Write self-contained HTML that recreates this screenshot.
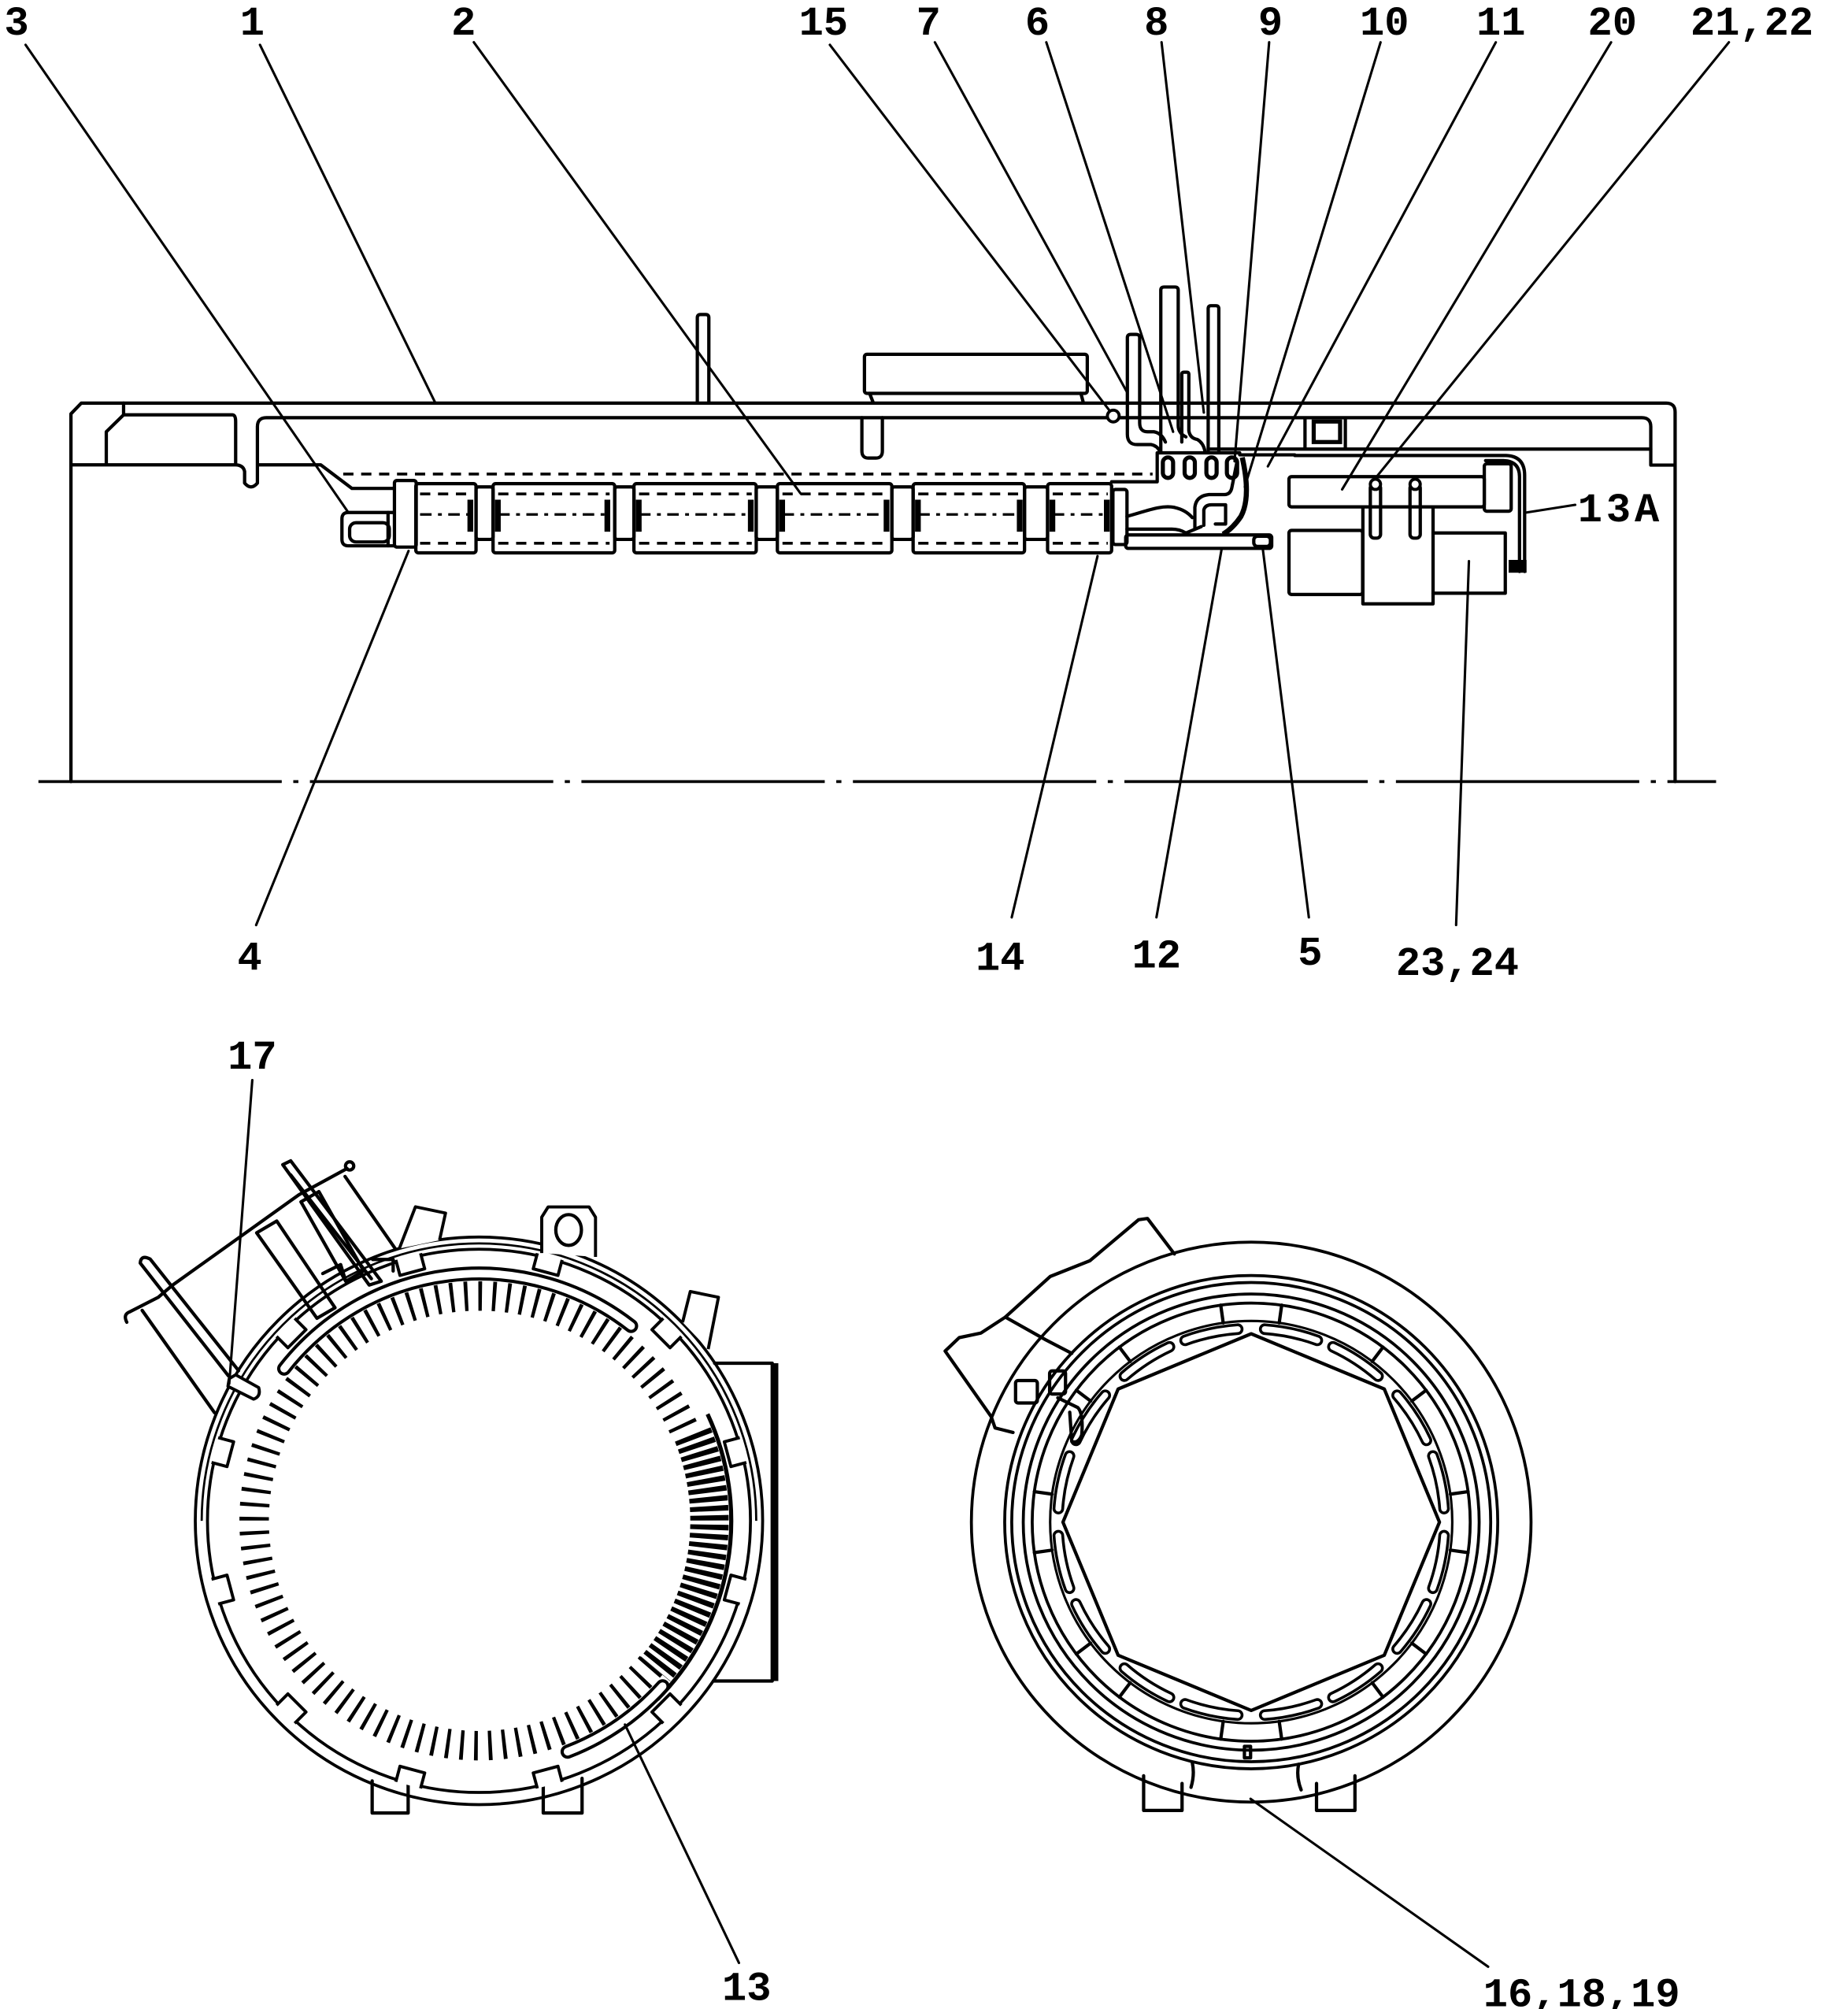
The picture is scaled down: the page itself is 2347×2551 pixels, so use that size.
<!DOCTYPE html>
<html><head><meta charset="utf-8"><style>
html,body{margin:0;padding:0;background:#fff;}
svg{display:block}
.s{fill:none;stroke:#000;stroke-width:2.6;stroke-linejoin:round;stroke-linecap:round}
.c{fill:none;stroke:#000;stroke-width:2.3}
.t{fill:none;stroke:#000;stroke-width:1.9;stroke-linecap:round}
.w{fill:#fff;stroke:#000;stroke-width:2.4;stroke-linejoin:round}
.d{fill:none;stroke:#000;stroke-width:2.2;stroke-dasharray:8 6}
.dd{fill:none;stroke:#000;stroke-width:2;stroke-dasharray:9 5 3 5}
.b{fill:#000}
text{font-family:"Liberation Mono","DejaVu Sans Mono",monospace;font-weight:bold;font-size:32px;fill:#000}
</style></head><body>
<svg width="2347" height="2551" viewBox="0 0 1443 1568" preserveAspectRatio="none">
<rect x="0" y="0" width="1443" height="1568" fill="#fff"/>

<!-- ===== LABELS ===== -->
<g text-anchor="middle">
<text x="13" y="27">3</text>
<text x="197" y="27">1</text>
<text x="362" y="27">2</text>
<text x="643" y="27">15</text>
<text x="725" y="27">7</text>
<text x="810" y="27">6</text>
<text x="903" y="27">8</text>
<text x="992" y="27">9</text>
<text x="1081" y="27">10</text>
<text x="1172" y="27">11</text>
<text x="1259" y="27">20</text>
<text x="1368" y="27">21,22</text>
<text x="195" y="757">4</text>
<text x="781" y="757">14</text>
<text x="903" y="755">12</text>
<text x="1023" y="753">5</text>
<text x="1138" y="761">23,24</text>
<text x="197" y="834">17</text>
<text x="583" y="1561">13</text>
<text x="1235" y="1566">16,18,19</text>
</g>
<text x="1232" y="407" letter-spacing="3">13A</text>

<!-- ===== TOP SECTION BODY ===== -->
<path class="s" d="M55.4,610 V323 L63.5,314.6 H1301 Q1308,314.6 1308,321.6 V610"/>
<path class="dd" d="M30,610 H1340" style="stroke-width:2.2;stroke-dasharray:190 9 4 9"/>

<path class="s" d="M96.5,314.6 V323.8 H181.7 Q184,324 184,329 V362.8 M96.5,323.8 L83,337 V362.8 M55.4,362.8 H184 Q190,363 191,368 V377 Q196,383 201,377 V333 Q201,326 208,326 H1282 Q1289,326 1289,333 V363 H1308 M201,362.8 H250.4 L274.8,381.2 H308"/>
<path class="s" d="M673,326 V352 Q673,357.5 678,357.5 H684 Q689,357.5 689,352 V326"/>
<path class="s" d="M945,350.5 H1289 M1019,327 V350 M1050.5,327 V350"/>
<rect x="1025.8" y="329" width="20.6" height="16" fill="none" stroke="#000" stroke-width="3.2"/>

<!-- top box & post -->
<rect class="s" x="675" y="276.5" width="174" height="30.5" rx="2"/>
<path class="s" d="M679,307 L682,314.6 M844,307 L846,314.6"/>
<path class="s" d="M544.5,314.6 V248 Q544.5,245.5 547,245.5 H551 Q553.5,245.5 553.5,248 V314.6"/>

<!-- rods -->
<path class="s" d="M906.4,353 V226.5 Q906.4,224 909,224 H917.5 Q920,224 920,226.5 V332 Q920,338 926,341"/>
<path class="s" d="M943.4,352 V241 Q943.4,238.6 945.5,238.6 H949.5 Q951.7,238.6 951.7,241 V352"/>
<path class="s" d="M880.3,263.5 Q880.3,261 883,261 H887 Q889.9,261 889.9,263.5 V330 Q889.9,337 896,337 H901 Q907,338 910,345 M880.3,263.5 V339 Q880.3,347 888,347 H899 Q904,348 906,353"/>
<path class="s" d="M922.8,345 V292 Q922.8,290.5 924.5,290.5 H926.7 Q928.3,290.5 928.3,292 V336 Q929,342 935,343 Q940,346 941,353"/>
<circle cx="869.3" cy="324.7" r="4.6" class="w"/>

<!-- dashed line & rollers -->
<path class="d" d="M268,370 H900"/>
<rect class="s" x="308" y="375" width="17" height="52" rx="2"/>
<path class="s" d="M308,400 H272 Q267,400 267,405 V421 Q267,426 272,426 H308"/>
<rect class="s" x="273" y="408" width="31" height="15" rx="5"/>
<path class="s" d="M303,400 V426"/>

<g>
<rect class="s" x="324.7" y="377.5" width="47" height="54" rx="2"/>
<rect class="s" x="385" y="377.5" width="95" height="54" rx="2"/>
<rect class="s" x="495" y="377.5" width="95.5" height="54" rx="2"/>
<rect class="s" x="607" y="377.5" width="89.4" height="54" rx="2"/>
<rect class="s" x="713" y="377.5" width="87" height="54" rx="2"/>
<rect class="s" x="818" y="377.5" width="50" height="54" rx="2"/>
<rect class="s" x="371.7" y="380" width="13.3" height="41" rx="2"/>
<rect class="s" x="480" y="380" width="15" height="41" rx="2"/>
<rect class="s" x="590.5" y="380" width="16.5" height="41" rx="2"/>
<rect class="s" x="696.4" y="380" width="16.6" height="41" rx="2"/>
<rect class="s" x="800" y="380" width="18" height="41" rx="2"/>
<path class="d" d="M328,385.5 H368 M389,385.5 H476 M499,385.5 H587 M611,385.5 H693 M717,385.5 H797 M822,385.5 H865"/>
<path class="d" d="M328,424 H368 M389,424 H476 M499,424 H587 M611,424 H693 M717,424 H797 M822,424 H865"/>
<path class="dd" d="M328,401.5 H368 M389,401.5 H476 M499,401.5 H587 M611,401.5 H693 M717,401.5 H797 M822,401.5 H865"/>
<rect class="b" x="365" y="390" width="4.5" height="25"/>
<rect class="b" x="386.5" y="390" width="4.5" height="25"/>
<rect class="b" x="472" y="390" width="4.5" height="25"/>
<rect class="b" x="496.5" y="390" width="4.5" height="25"/>
<rect class="b" x="584" y="390" width="4.5" height="25"/>
<rect class="b" x="608.5" y="390" width="4.5" height="25"/>
<rect class="b" x="690" y="390" width="4.5" height="25"/>
<rect class="b" x="714.5" y="390" width="4.5" height="25"/>
<rect class="b" x="794" y="390" width="4.5" height="25"/>
<rect class="b" x="819.5" y="390" width="4.5" height="25"/>
<rect class="b" x="862" y="390" width="4.5" height="25"/>
</g>

<!-- mechanism -->
<path class="s" d="M868,376 H903.6 V353.4 H968"/>
<rect class="s" x="908" y="357" width="8" height="16" rx="4" style="stroke-width:3.2"/>
<rect class="s" x="925" y="357" width="8" height="16" rx="4" style="stroke-width:3.2"/>
<rect class="s" x="942" y="357" width="8" height="16" rx="4" style="stroke-width:3.2"/>
<rect class="s" x="958" y="357" width="8" height="16" rx="4" style="stroke-width:3.2"/>
<rect class="s" x="869" y="382" width="11" height="43" rx="2"/>
<path class="s" d="M880,403 C895,399 906,394 917,396 Q926,398 931,404 M880,413 H915 Q921,413 926,416 L938,411"/>
<rect class="s" x="879" y="417.5" width="114" height="10.5" rx="2"/>
<rect class="s" x="979" y="418.5" width="13" height="8" rx="3"/>
<path class="s" d="M933,412 V396 Q934,387 944,386 H956 Q961,386 962,380 L966,360 M940,410 V398 Q941,394 946,394 H957 V409 H949"/>
<path d="M970,357 Q977,388 969,403 Q963,412 955,417" fill="none" stroke="#000" stroke-width="4"/>
<path class="s" d="M968,355 H1011"/>

<!-- right assembly -->
<rect class="s" x="1006.5" y="372" width="152.5" height="23.6" rx="2"/>
<rect class="s" x="1006.5" y="414" width="57.5" height="50" rx="2"/>
<path class="s" d="M1064.2,395.6 V471.3 H1119 V395.6"/>
<path class="s" d="M1119,416 H1175.4 V463 H1119"/>
<rect class="s" x="1159" y="362" width="21" height="37" rx="2"/>
<path class="s" d="M1011,355.5 H1176 Q1190.5,356 1190.5,371 V446 M1160,359.5 H1174 Q1186.5,360 1186.5,372 V446"/>
<rect class="b" x="1178" y="437" width="14" height="10"/>
<rect class="s" x="1070" y="378" width="8" height="42" rx="3"/>
<rect class="s" x="1101" y="378" width="8" height="42" rx="3"/>
<circle class="w" cx="1074" cy="378" r="4"/>
<circle class="w" cx="1105" cy="378" r="4"/>

<!-- top leaders -->
<g class="t">
<path d="M20,35 L272,400"/>
<path d="M203,35 L340,314.6"/>
<path d="M370,33 L625,385"/>
<path d="M648,35 L866,320"/>
<path d="M730,33 L880,306"/>
<path d="M817,33 L916,337"/>
<path d="M907,33 L940,322"/>
<path d="M991,33 L964,360"/>
<path d="M1078,33 L972,380"/>
<path d="M1168,33 L990,364"/>
<path d="M1258,33 L1048,382"/>
<path d="M1350,33 L1075,372"/>
<path d="M200,722 L319,430"/>
<path d="M790,716 L857,434"/>
<path d="M903,716 L954,428"/>
<path d="M1022,716 L986,428"/>
<path d="M1137,722 L1147,438"/>
<path d="M1192,400 L1230,394"/>
</g>

<!-- ===== BOTTOM LEFT CIRCLE ===== -->
<path class="s" d="M290.6,1390 V1415 H318.7 V1392"/>
<path class="s" d="M424.2,1392 V1415 H454.5 V1388"/>
<path class="s" d="M558,1064 H603 V1312 H557"/>
<path d="M605.5,1064 V1312" stroke="#000" stroke-width="4.5"/>

<g transform="translate(374,1187)">
<circle class="c" r="221.5"/>
<path class="c" d="M-216.5,0 A216.5,216.5 0 0 1 216.5,0" style="stroke-width:1.7"/>
<circle class="c" r="212"/>
<!-- ticks -->
<path d="M134.4,112.8 A175.5,175.5 0 1 1 162.7,-65.7" fill="none" stroke="#000" stroke-width="23" stroke-dasharray="2.8 8.2"/>
<!-- teeth -->
<path d="M166.9,-67.4 A180,180 0 0 1 137.9,115.7" fill="none" stroke="#000" stroke-width="30" stroke-dasharray="4 3.2"/>
<path d="M178.5,-83.3 A197,197 0 0 1 139.3,139.3" fill="none" stroke="#000" stroke-width="3.2"/>
<!-- slot arcs -->
<g fill="none" stroke-linecap="round">
<path d="M-152.1,-118.8 A193,193 0 0 1 118.8,-152.1" stroke="#000" stroke-width="11"/>
<path d="M143.4,129.1 A193,193 0 0 1 69.2,180.2" stroke="#000" stroke-width="11"/>
<path d="M-152.1,-118.8 A193,193 0 0 1 118.8,-152.1" stroke="#fff" stroke-width="6"/>
<path d="M143.4,129.1 A193,193 0 0 1 69.2,180.2" stroke="#fff" stroke-width="6"/>
</g>
<!-- notches -->
<g class="w">
<path d="M213.5,-10 H201 V10 H213.5" transform="rotate(15)"/>
<path d="M213.5,-10 H201 V10 H213.5" transform="rotate(45)"/>
<path d="M213.5,-10 H201 V10 H213.5" transform="rotate(75)"/>
<path d="M213.5,-10 H201 V10 H213.5" transform="rotate(105)"/>
<path d="M213.5,-10 H201 V10 H213.5" transform="rotate(135)"/>
<path d="M213.5,-10 H201 V10 H213.5" transform="rotate(165)"/>
<path d="M213.5,-10 H201 V10 H213.5" transform="rotate(195)"/>
<path d="M213.5,-10 H201 V10 H213.5" transform="rotate(225)"/>
<path d="M213.5,-10 H201 V10 H213.5" transform="rotate(255)"/>
<path d="M213.5,-10 H201 V10 H213.5" transform="rotate(285)"/>
<path d="M213.5,-10 H201 V10 H213.5" transform="rotate(315)"/>
<path d="M213.5,-10 H201 V10 H213.5" transform="rotate(345)"/>
</g>
</g>

<!-- lug & stubs -->
<path class="w" d="M423,978 V950 L428,942 H460 L465,950 V981"/>
<ellipse class="s" cx="444" cy="960" rx="10" ry="12"/>
<path class="w" d="M311.8,974.5 L324.4,941.9 L347.9,946.8 L343.2,968"/>
<path class="w" d="M533,1032 L539,1008 L561,1012.5 L553,1053"/>

<!-- upper-left bracket -->
<g class="s">
<path d="M109.5,985.8 Q110,979 117.3,982.7 L186.3,1069.8 M109.5,985.8 L178.5,1074"/>
<path d="M99,1032 Q96,1026 101,1024 L123.6,1012.5 L134.5,1003.2 L233.4,932.5 L271,912"/>
<circle cx="273" cy="910" r="3.2"/>
<path d="M111,1022.7 L167.5,1102.6"/>
<path d="M269.4,918.2 L308.6,974.5"/>
<polygon points="200.4,962.2 216.1,953 261.6,1020.7 247.5,1028.9"/>
<polygon points="220.8,909 227,906 297.7,1000 288.3,1003"/>
<path d="M227,917 L290,998"/>
<polygon points="235,938 249,930 284,992 270,1000"/>
<path d="M252,994 L266,987 L270,1000 M291,983 H307 V992"/>
</g>
<path class="w" d="M179,1076 L184,1073 L202,1083 Q204,1090 198,1092 L178,1082 Z"/>

<g class="t">
<path d="M197,843 L179,1080"/>
<path d="M488,1346 L577,1532"/>
</g>

<!-- ===== BOTTOM RIGHT CIRCLE ===== -->
<path class="s" d="M893,1386 V1413 H923 V1392"/>
<path class="s" d="M1028,1392 V1413 H1058 V1386"/>
<g transform="translate(977,1188)">
<circle class="c" r="218.5"/>
<circle class="c" r="192.5"/>
<circle class="c" r="187"/>
<circle class="c" r="178"/>
<circle class="c" r="171"/>
<circle class="c" r="157" style="stroke-width:1.9"/>
<polygon class="s" points="0,-147 103.9,-103.9 147,0 103.9,103.9 0,147 -103.9,103.9 -147,0 -103.9,-103.9"/>
<g class="s">
<line x1="157" x2="171" transform="rotate(-98)"/><line x1="157" x2="171" transform="rotate(-82)"/>
<line x1="157" x2="171" transform="rotate(-53)"/><line x1="157" x2="171" transform="rotate(-37)"/>
<line x1="157" x2="171" transform="rotate(-8)"/><line x1="157" x2="171" transform="rotate(8)"/>
<line x1="157" x2="171" transform="rotate(37)"/><line x1="157" x2="171" transform="rotate(53)"/>
<line x1="157" x2="171" transform="rotate(82)"/><line x1="157" x2="171" transform="rotate(98)"/>
<line x1="157" x2="171" transform="rotate(127)"/><line x1="157" x2="171" transform="rotate(143)"/>
<line x1="157" x2="171" transform="rotate(172)"/><line x1="157" x2="171" transform="rotate(188)"/>
<line x1="157" x2="171" transform="rotate(217)"/><line x1="157" x2="171" transform="rotate(233)"/>
</g>
<g fill="none" stroke="#000" stroke-width="9" stroke-linecap="round">
<path d="M149.5,-21 A151,151 0 0 1 149.5,21" transform="rotate(-102)"/>
<path d="M149.5,-21 A151,151 0 0 1 149.5,21" transform="rotate(-78)"/>
<path d="M149.5,-21 A151,151 0 0 1 149.5,21" transform="rotate(-57)"/>
<path d="M149.5,-21 A151,151 0 0 1 149.5,21" transform="rotate(-33)"/>
<path d="M149.5,-21 A151,151 0 0 1 149.5,21" transform="rotate(-12)"/>
<path d="M149.5,-21 A151,151 0 0 1 149.5,21" transform="rotate(12)"/>
<path d="M149.5,-21 A151,151 0 0 1 149.5,21" transform="rotate(33)"/>
<path d="M149.5,-21 A151,151 0 0 1 149.5,21" transform="rotate(57)"/>
<path d="M149.5,-21 A151,151 0 0 1 149.5,21" transform="rotate(78)"/>
<path d="M149.5,-21 A151,151 0 0 1 149.5,21" transform="rotate(102)"/>
<path d="M149.5,-21 A151,151 0 0 1 149.5,21" transform="rotate(123)"/>
<path d="M149.5,-21 A151,151 0 0 1 149.5,21" transform="rotate(147)"/>
<path d="M149.5,-21 A151,151 0 0 1 149.5,21" transform="rotate(168)"/>
<path d="M149.5,-21 A151,151 0 0 1 149.5,21" transform="rotate(192)"/>
<path d="M149.5,-21 A151,151 0 0 1 149.5,21" transform="rotate(213)"/>
<path d="M149.5,-21 A151,151 0 0 1 149.5,21" transform="rotate(237)"/>
</g>
<g fill="none" stroke="#fff" stroke-width="4.6" stroke-linecap="round">
<path d="M149.5,-21 A151,151 0 0 1 149.5,21" transform="rotate(-102)"/>
<path d="M149.5,-21 A151,151 0 0 1 149.5,21" transform="rotate(-78)"/>
<path d="M149.5,-21 A151,151 0 0 1 149.5,21" transform="rotate(-57)"/>
<path d="M149.5,-21 A151,151 0 0 1 149.5,21" transform="rotate(-33)"/>
<path d="M149.5,-21 A151,151 0 0 1 149.5,21" transform="rotate(-12)"/>
<path d="M149.5,-21 A151,151 0 0 1 149.5,21" transform="rotate(12)"/>
<path d="M149.5,-21 A151,151 0 0 1 149.5,21" transform="rotate(33)"/>
<path d="M149.5,-21 A151,151 0 0 1 149.5,21" transform="rotate(57)"/>
<path d="M149.5,-21 A151,151 0 0 1 149.5,21" transform="rotate(78)"/>
<path d="M149.5,-21 A151,151 0 0 1 149.5,21" transform="rotate(102)"/>
<path d="M149.5,-21 A151,151 0 0 1 149.5,21" transform="rotate(123)"/>
<path d="M149.5,-21 A151,151 0 0 1 149.5,21" transform="rotate(147)"/>
<path d="M149.5,-21 A151,151 0 0 1 149.5,21" transform="rotate(168)"/>
<path d="M149.5,-21 A151,151 0 0 1 149.5,21" transform="rotate(192)"/>
<path d="M149.5,-21 A151,151 0 0 1 149.5,21" transform="rotate(213)"/>
<path d="M149.5,-21 A151,151 0 0 1 149.5,21" transform="rotate(237)"/>
</g>
</g>
<!-- right circle bracket & details -->
<path class="s" d="M917,978.7 L896,951 L889,952 L851,984 L820,996.3 L785,1028 L766,1040.4 L749,1044 L738,1054.5 L774,1105.7 L777,1114.5 L791,1118"/>
<path class="s" d="M785,1028 L816.5,1045.7 L836.9,1056.3"/>
<rect class="s" x="793" y="1077.5" width="17" height="17.5" rx="2"/>
<rect class="s" x="819.6" y="1070" width="12.4" height="18" rx="2"/>
<path class="s" d="M826,1091 L841.6,1098.6 Q846,1103 844.7,1119.8 Q842,1127 836.9,1125.1 L835.3,1102.2"/>
<path class="s" d="M931,1375.7 Q933,1385 930,1395 M1014,1377 Q1012,1387 1016,1397"/>
<rect class="s" x="971.7" y="1363" width="4.8" height="9"/>
<path class="t" d="M976.5,1404 L1162,1535"/>
</svg>
</body></html>
